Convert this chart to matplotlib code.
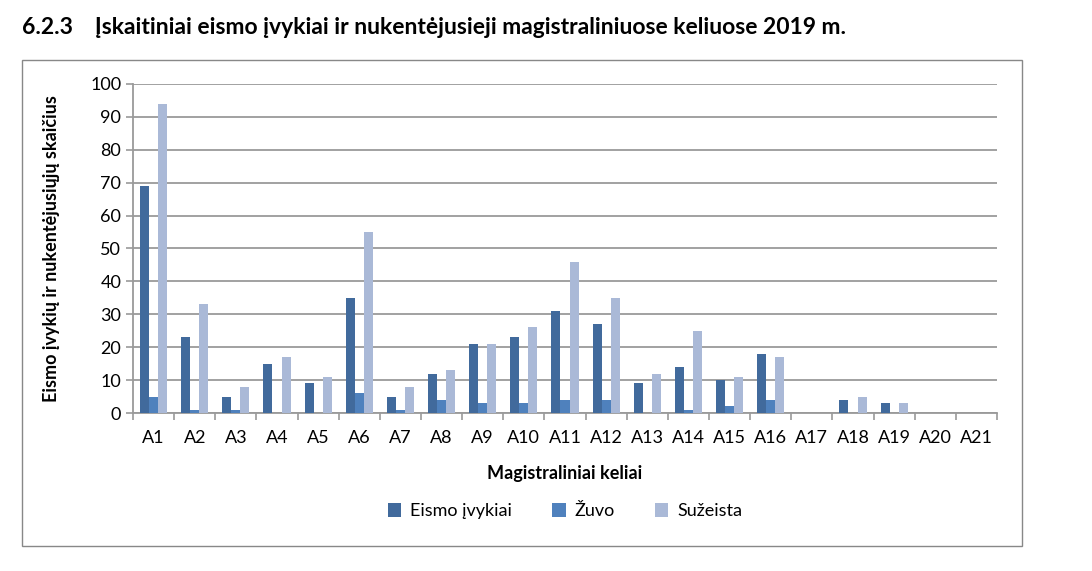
import numpy as np
import matplotlib.pyplot as plt

# data
roads = ['A%d' % i for i in range(1, 22)]
eismo = [69, 23, 5, 15, 9, 35, 5, 12, 21, 23, 31, 27, 9, 14, 10, 18, 0, 4, 3, 0, 0]
zuvo = [5, 1, 1, 0, 0, 6, 1, 4, 3, 3, 4, 4, 0, 1, 2, 4, 0, 0, 0, 0, 0]
suzeista = [94, 33, 8, 17, 11, 55, 8, 13, 21, 26, 46, 35, 12, 25, 11, 17, 0, 5, 3, 0, 0]

C_DARK = '#416A9C'
C_MID = '#4F81BD'
C_LIGHT = '#AAB9D7'
GRID = '#9A9A9A'

plt.rcParams['font.family'] = ['Lato', 'DejaVu Sans']

fig = plt.figure(figsize=(10.92, 5.71), dpi=100)
ax = fig.add_axes([0.1218, 0.2767, 0.7912, 0.5763])

# outer frame round the chart
frame = plt.Rectangle((22 / 1092, 1 - 546 / 571), 1000 / 1092, 486 / 571,
                      transform=fig.transFigure, fill=False, edgecolor='#888888', lw=1)
fig.patches.append(frame)

x = np.arange(len(roads))
w = 0.22
ax.bar(x - w, eismo, w, color=C_DARK, label='Eismo įvykiai', zorder=3)
ax.bar(x, zuvo, w, color=C_MID, label='Žuvo', zorder=3)
ax.bar(x + w, suzeista, w, color=C_LIGHT, label='Sužeista', zorder=3)

ax.set_xlim(-0.5, len(roads) - 0.5)
ax.set_ylim(0, 100)
ax.set_yticks(range(0, 101, 10))
ax.yaxis.grid(True, color=GRID, lw=1.3)
ax.set_axisbelow(True)

ax.set_xticks(x)
ax.set_xticklabels(roads, fontsize=13)
ax.set_xticks(np.arange(-0.5, len(roads)), minor=True)
ax.tick_params(axis='x', which='major', length=0, pad=12)
ax.tick_params(axis='x', which='minor', length=5, color=GRID, width=1.2)
ax.tick_params(axis='y', length=5, color=GRID, width=1.2, labelsize=13)

for s in ['top', 'right']:
    ax.spines[s].set_visible(False)
for s in ['left', 'bottom']:
    ax.spines[s].set_color(GRID)
    ax.spines[s].set_linewidth(1.3)

ax.set_xlabel('Magistraliniai keliai', fontsize=13, fontweight='bold', labelpad=14)
ax.set_ylabel('Eismo įvykių ir nukentėjusiųjų skaičius', fontsize=13,
              fontweight='bold', labelpad=22)

ax.legend(loc='upper center', bbox_to_anchor=(0.5, -0.225), ncol=3, frameon=False,
          fontsize=13, handlelength=0.75, handleheight=0.75, columnspacing=2.2,
          handletextpad=0.5)

fig.text(22 / 1092, 1 - 27 / 571, '6.2.3    Įskaitiniai eismo įvykiai ir nukentėjusieji magistraliniuose keliuose 2019 m.',
         fontsize=16.5, fontweight='bold', va='center', ha='left')

fig.savefig('out.png', dpi=100)
